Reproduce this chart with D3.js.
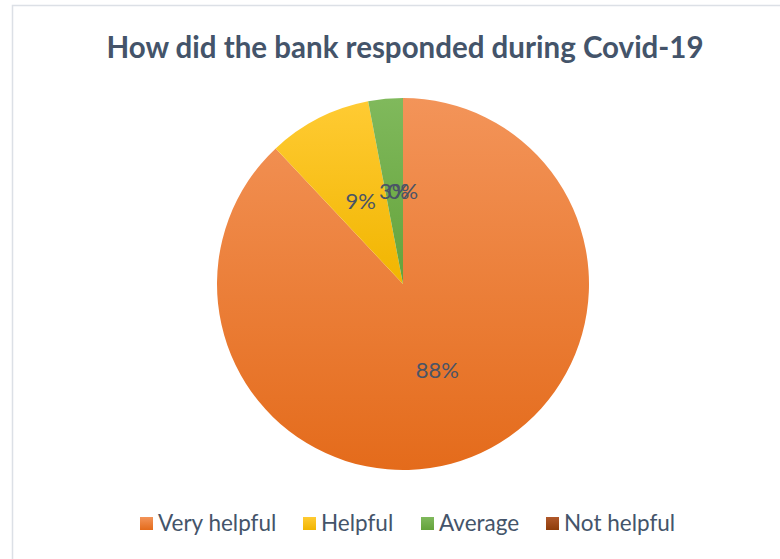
<!DOCTYPE html>
<html>
<head>
<meta charset="utf-8">
<script src="https://cdn.jsdelivr.net/npm/d3@7"></script>
<style>
  body { margin: 0; background: #fff; }
  svg { display: block; }
</style>
</head>
<body>
<script>
//chart data
var categories = ["Very helpful", "Helpful", "Average", "Not helpful"];
var values = [88, 9, 3, 0];
var colorsTop = ["#F39459", "#FFCB33", "#80B95C", "#B0582A"];
var colorsBottom = ["#E46B1B", "#F1B500", "#64A33B", "#8E3C0A"];

var width = 780,
    height = 559;

var svg = d3.select("body")
    .append("svg")
    .attr("width", width)
    .attr("height", height);

//gradient fills, one per category
var defs = svg.append("defs");
categories.forEach(function(c, i) {
    var g = defs.append("linearGradient")
        .attr("id", "grad" + i)
        .attr("x1", 0).attr("y1", 0)
        .attr("x2", 0).attr("y2", 1);
    g.append("stop").attr("offset", "0%").attr("stop-color", colorsTop[i]);
    g.append("stop").attr("offset", "100%").attr("stop-color", colorsBottom[i]);
});

//chart border
svg.append("rect")
    .attr("x", 12.5)
    .attr("y", 5.5)
    .attr("width", 800)
    .attr("height", 600)
    .attr("fill", "none")
    .attr("stroke", "#DCE0E6")
    .attr("stroke-width", 1.5);

//title
svg.append("text")
    .attr("x", 405)
    .attr("y", 58)
    .attr("text-anchor", "middle")
    .attr("font-family", "Lato, 'Open Sans', sans-serif")
    .attr("font-weight", "bold")
    .attr("font-size", 29.5)
    .attr("fill", "#44546A")
    .text("How did the bank responded during Covid-19");

//pie
var cx = 403, cy = 284, r = 186;

var pie = d3.pie()
    .sort(null)
    .value(function(d) { return d; });

var arc = d3.arc()
    .innerRadius(0)
    .outerRadius(r);

var labelArc = d3.arc()
    .innerRadius(r * 0.5)
    .outerRadius(r * 0.5);

var g = svg.append("g")
    .attr("transform", "translate(" + cx + "," + cy + ")");

var arcs = pie(values);

g.selectAll(".slice")
    .data(arcs)
    .enter()
    .append("path")
    .attr("class", "slice")
    .attr("d", arc)
    .attr("fill", function(d, i) { return "url(#grad" + i + ")"; });

var total = d3.sum(values);

g.selectAll(".label")
    .data(arcs)
    .enter()
    .append("text")
    .attr("class", "label")
    .attr("transform", function(d) {
        var c = labelArc.centroid(d);
        return "translate(" + c[0] + "," + c[1] + ")";
    })
    .attr("dy", "0.35em")
    .attr("text-anchor", "middle")
    .attr("font-family", "Lato, 'Open Sans', sans-serif")
    .attr("font-size", 22)
    .attr("fill", "#4A5466")
    .text(function(d) { return Math.round(d.data / total * 100) + "%"; });

//legend
var legendX = [140, 303, 421, 546];
var legend = svg.selectAll(".legend")
    .data(categories)
    .enter()
    .append("g")
    .attr("class", "legend")
    .attr("transform", function(d, i) { return "translate(" + legendX[i] + ",517)"; });

legend.append("rect")
    .attr("width", 13)
    .attr("height", 13)
    .attr("fill", function(d, i) { return "url(#grad" + i + ")"; });

legend.append("text")
    .attr("x", 18)
    .attr("y", 14)
    .attr("font-family", "Lato, 'Open Sans', sans-serif")
    .attr("font-size", 22.5)
    .attr("fill", "#44546A")
    .text(function(d) { return d; });
</script>
</body>
</html>
